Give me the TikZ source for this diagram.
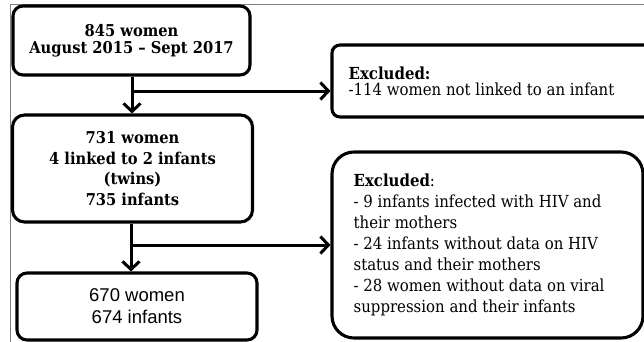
\documentclass[tikz,border=0pt]{standalone}
\usepackage{fontspec}
\setmainfont{DejaVu Serif}[FakeStretch=0.9]
\newfontfamily\arialf{Liberation Sans}
\usetikzlibrary{arrows.meta}
\begin{document}
\begin{tikzpicture}[x=1pt,y=-1pt,
  box/.style={draw, line width=3.1pt, inner sep=0pt},
  arr/.style={line width=3pt, -{Straight Barb[length=8pt,width=17pt]}},
  ctext/.style={align=center, font=\bfseries\fontsize{16.3}{#1}\selectfont},
  ltext/.style={anchor=west, inner sep=0pt, align=left, font=\fontsize{16.6}{#1}\selectfont}
]
\useasboundingbox (0,0) rectangle (644,341);
\clip (0,0) rectangle (644,341);
\fill[white] (0,0) rectangle (644,341);
\draw[black!50, line width=0.9pt] (10.5,4.5) rectangle (700,400);

\node[box, rounded corners=10pt, minimum width=237pt, minimum height=69pt, ctext=17] (b1) at (131.5,40.5) {845 women\\August 2015 -- Sept 2017};
\node[box, rounded corners=12pt, minimum width=240pt, minimum height=107pt, ctext=20.7] (b2) at (132.5,168.5) {731 women\\4 linked to 2 infants\\(twins)\\735 infants};
\node[box, rounded corners=10pt, minimum width=240pt, minimum height=67pt, align=center, font=\arialf\fontsize{18.5}{22}\selectfont] (b3) at (137,306.5) {670 women\\674 infants};

\node[box, rounded corners=8pt, minimum width=340pt, minimum height=72pt] (e1) at (502,81) {};
\node[ltext=16] (t1) at ([xshift=18pt]e1.west) {\textbf{Excluded:}\\-114 women not linked to an infant};

\node[box, rounded corners=22pt, minimum width=311pt, minimum height=186pt] (e2) at (487.5,245) {};
\node[ltext=21] (t2) at ([xshift=23pt]e2.west) {\textbf{Excluded}:\\- 9 infants infected with HIV and\\their mothers\\- 24 infants without data on HIV\\status and their mothers\\- 28 women without data on viral\\suppression and their infants};

\coordinate (j1) at (132,91);
\coordinate (j2) at (131,245);
\draw[arr] (b1.south -| j1) -- (b2.north -| j1);
\draw[arr] (j1) -- (e1.west |- j1);
\draw[arr] (b2.south -| j2) -- (b3.north -| j2);
\draw[arr] (j2) -- (e2.west |- j2);
\end{tikzpicture}
\end{document}
